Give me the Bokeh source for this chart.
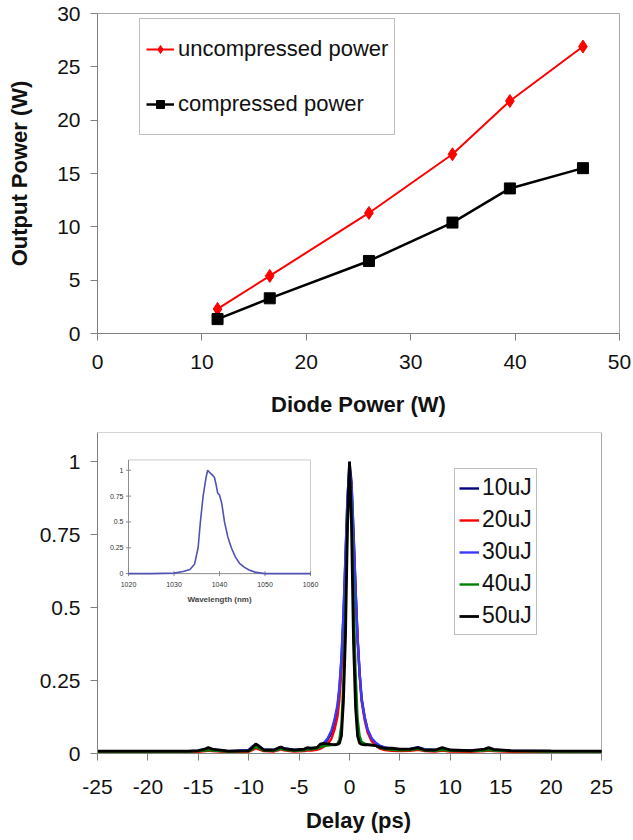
from bokeh.plotting import figure
from bokeh.models import Range1d, FixedTicker, Legend, LegendItem, CustomJSTickFormatter
from bokeh.layouts import column
from bokeh.embed import file_html
from bokeh.resources import INLINE
from bokeh.core.properties import value
import math

# ---------------- data: top chart ----------------
diode_power = [11.5, 16.5, 26.0, 34.0, 39.5, 46.5]
uncompressed_power = [2.3, 5.4, 11.3, 16.8, 21.8, 26.9]
compressed_power = [1.35, 3.3, 6.8, 10.4, 13.6, 15.5]
top_xticks = [0, 10, 20, 30, 40, 50]
top_yticks = [0, 5, 10, 15, 20, 25, 30]

# ---------------- data: autocorrelation traces ----------------
delay = [-25.0, -20.0, -16.0, -15.0, -14.3, -14.0, -13.6, -12.0, -10.0, -9.6,
         -9.3, -9.0, -8.5, -7.5, -7.0, -6.8, -6.5, -5.5, -4.5, -4.2,
         -3.8, -3.2, -2.9, -2.6, -2.2, -1.8, -1.5, -1.2, -1.0, -0.8,
         -0.6, -0.4, -0.2, 0.0, 0.2, 0.4, 0.6, 0.8, 1.0, 1.2,
         1.5, 1.8, 2.2, 2.6, 3.0, 3.5, 4.2, 5.0, 6.0, 6.8,
         7.5, 8.5, 9.2, 10.0, 12.0, 13.4, 13.8, 14.3, 16.0, 20.0, 25.0]
ac_10uJ = [0.007, 0.007, 0.007, 0.009, 0.011, 0.013, 0.011, 0.007, 0.010, 0.020,
           0.028, 0.022, 0.012, 0.011, 0.017, 0.020, 0.016, 0.011, 0.011, 0.014,
           0.014, 0.018, 0.024, 0.032, 0.046, 0.070, 0.105, 0.155, 0.220, 0.320,
           0.470, 0.670, 0.870, 1.000, 0.930, 0.760, 0.570, 0.400, 0.280, 0.190,
           0.125, 0.080, 0.050, 0.036, 0.026, 0.020, 0.016, 0.014, 0.015, 0.020,
           0.013, 0.011, 0.015, 0.011, 0.009, 0.011, 0.014, 0.011, 0.009, 0.007, 0.007]
ac_20uJ = [0.005, 0.005, 0.005, 0.006, 0.008, 0.010, 0.008, 0.005, 0.006, 0.012,
           0.018, 0.014, 0.008, 0.007, 0.012, 0.014, 0.011, 0.007, 0.008, 0.010,
           0.010, 0.013, 0.016, 0.022, 0.032, 0.050, 0.080, 0.125, 0.185, 0.285,
           0.420, 0.620, 0.840, 0.970, 0.880, 0.720, 0.550, 0.390, 0.270, 0.180,
           0.115, 0.072, 0.042, 0.028, 0.017, 0.012, 0.009, 0.008, 0.009, 0.013,
           0.008, 0.007, 0.010, 0.007, 0.006, 0.008, 0.010, 0.008, 0.006, 0.005, 0.005]
ac_30uJ = [0.008, 0.008, 0.008, 0.010, 0.012, 0.015, 0.012, 0.008, 0.012, 0.025,
           0.032, 0.025, 0.014, 0.012, 0.020, 0.022, 0.018, 0.012, 0.012, 0.015,
           0.015, 0.020, 0.026, 0.034, 0.050, 0.078, 0.115, 0.165, 0.230, 0.330,
           0.480, 0.680, 0.880, 0.980, 0.920, 0.750, 0.560, 0.395, 0.275, 0.185,
           0.125, 0.082, 0.052, 0.037, 0.027, 0.021, 0.016, 0.015, 0.016, 0.022,
           0.014, 0.012, 0.016, 0.012, 0.010, 0.012, 0.015, 0.012, 0.010, 0.008, 0.008]
ac_40uJ = [0.007, 0.007, 0.007, 0.008, 0.010, 0.012, 0.010, 0.007, 0.008, 0.015,
           0.022, 0.018, 0.010, 0.009, 0.014, 0.016, 0.013, 0.009, 0.011, 0.014,
           0.014, 0.017, 0.022, 0.025, 0.027, 0.029, 0.030, 0.033, 0.048, 0.100,
           0.250, 0.500, 0.800, 0.950, 0.850, 0.550, 0.280, 0.120, 0.060, 0.040,
           0.034, 0.031, 0.029, 0.027, 0.020, 0.015, 0.013, 0.011, 0.012, 0.016,
           0.010, 0.009, 0.013, 0.009, 0.008, 0.010, 0.013, 0.010, 0.008, 0.007, 0.007]
ac_50uJ = [0.008, 0.008, 0.008, 0.010, 0.016, 0.020, 0.015, 0.008, 0.010, 0.022,
           0.033, 0.026, 0.012, 0.012, 0.020, 0.022, 0.017, 0.012, 0.015, 0.020,
           0.018, 0.021, 0.032, 0.035, 0.033, 0.031, 0.030, 0.031, 0.035, 0.060,
           0.180, 0.400, 0.780, 1.000, 0.780, 0.380, 0.160, 0.060, 0.036, 0.031,
           0.030, 0.030, 0.029, 0.027, 0.022, 0.018, 0.018, 0.015, 0.015, 0.020,
           0.012, 0.012, 0.020, 0.012, 0.010, 0.015, 0.020, 0.014, 0.010, 0.009, 0.008]
series_labels = ["10uJ", "20uJ", "30uJ", "40uJ", "50uJ"]
series_colors = ["#000080", "#ff0000", "#3a3aff", "#008000", "#000000"]
bottom_xticks = [-25, -20, -15, -10, -5, 0, 5, 10, 15, 20, 25]
bottom_yticks = [0, 0.25, 0.5, 0.75, 1]

# ---------------- data: inset spectrum ----------------
wavelength = [1020, 1025, 1030, 1032, 1033.5, 1034.5, 1035.3, 1035.8, 1036.4, 1037.0,
              1037.4, 1037.8, 1038.3, 1038.9, 1039.3, 1039.6, 1040.0, 1040.5, 1041.1, 1041.8,
              1042.6, 1043.5, 1044.4, 1045.5, 1046.5, 1048.0, 1050.0, 1055.0, 1060.0]
spectrum = [0.0, 0.0, 0.005, 0.02, 0.04, 0.09, 0.25, 0.5, 0.75, 0.92,
            1.0, 0.98, 0.96, 0.93, 0.85, 0.78, 0.76, 0.68, 0.5, 0.36,
            0.25, 0.16, 0.1, 0.06, 0.035, 0.012, 0.0, 0.0, 0.0]
inset_xticks = [1020, 1030, 1040, 1050, 1060]
inset_xlabels = ["1020", "1030", "1040", "1050", "1060"]
inset_yticks = [0, 0.25, 0.5, 0.75, 1]
inset_ylabels = ["0", "0.25", "0.5", "0.75", "1"]

FONT = "Liberation Sans"
AX_GRAY = "#808080"
BOX_GRAY = "#a8a8a8"

W = 632
LEFT = 97
FRAME_W = 522


def style_axis(ax, ticks):
    ax.ticker = FixedTicker(ticks=ticks)
    ax.axis_line_color = AX_GRAY
    ax.major_tick_line_color = AX_GRAY
    ax.major_tick_in = 0
    ax.major_tick_out = 7
    ax.minor_tick_line_color = None
    ax.major_label_text_font = FONT
    ax.major_label_text_font_size = "21px"
    ax.major_label_text_color = "#111111"
    ax.axis_label_text_font = FONT
    ax.axis_label_text_font_style = "bold"
    ax.axis_label_text_font_size = "22px"
    ax.axis_label_text_color = "#111111"
    ax.formatter = CustomJSTickFormatter(code="return tick.toString();")


# ================= top figure =================
p1 = figure(width=W, height=419, x_range=Range1d(0, 50), y_range=Range1d(0, 30),
            output_backend="svg", toolbar_location=None,
            min_border_left=LEFT, min_border_right=W - LEFT - FRAME_W,
            min_border_top=13, min_border_bottom=84)
p1.grid.visible = False
p1.outline_line_color = BOX_GRAY
style_axis(p1.xaxis[0], top_xticks)
style_axis(p1.yaxis[0], top_yticks)
p1.xaxis.axis_label = "Diode Power (W)"
p1.yaxis.axis_label = "Output Power (W)"
p1.xaxis.major_label_standoff = 14
p1.xaxis.axis_label_standoff = 20
p1.yaxis.major_label_standoff = 10
p1.yaxis.axis_label_standoff = 22

l_unc = p1.line(diode_power, uncompressed_power, line_color="#ff0000", line_width=2)
m_unc = p1.scatter(diode_power, uncompressed_power, marker="diamond", size=13,
                   fill_color="#ff0000", line_color="#ff0000")
l_cmp = p1.line(diode_power, compressed_power, line_color="#000000", line_width=2.5)
m_cmp = p1.scatter(diode_power, compressed_power, marker="square", size=11,
                   fill_color="#000000", line_color="#000000")

leg1 = Legend(items=[LegendItem(label="uncompressed power", renderers=[l_unc, m_unc]),
                     LegendItem(label="compressed power", renderers=[l_cmp, m_cmp])],
              location=(42, 198), label_text_font=FONT, label_text_font_size="22px",
              label_text_color="#111111", glyph_width=28, glyph_height=20,
              label_height=48, spacing=7, padding=6, margin=0, label_standoff=4,
              border_line_color=AX_GRAY, border_line_width=1.5,
              background_fill_color="white", background_fill_alpha=1)
p1.add_layout(leg1)

# ================= bottom figure =================
AXIS_PX = 504   # pixel length of the -25..25 delay axis
x_lo, x_hi = bottom_xticks[0], bottom_xticks[-1]
x_end = x_hi + (FRAME_W - AXIS_PX) * (x_hi - x_lo) / AXIS_PX
y_top = 1.1
FRAME_H = 323

p2 = figure(width=W, height=416, x_range=Range1d(x_lo, x_end), y_range=Range1d(0, y_top),
            output_backend="svg", toolbar_location=None,
            min_border_left=LEFT, min_border_right=W - LEFT - FRAME_W,
            min_border_top=13, min_border_bottom=80)
p2.grid.visible = False
p2.outline_line_color = None
style_axis(p2.xaxis[0], bottom_xticks)
style_axis(p2.yaxis[0], bottom_yticks)
p2.xaxis.bounds = (x_lo, x_hi)
p2.xaxis.axis_label = "Delay (ps)"
p2.xaxis.major_label_standoff = 19
p2.xaxis.axis_label_standoff = 11
p2.yaxis.major_label_standoff = 10
# plot-area border (top and right)
p2.line([x_lo, x_hi, x_hi], [y_top, y_top, 0], line_color=BOX_GRAY, line_width=1)

# inset placement (pixel box inside the main frame) -> extra ranges
IN_LEFT, IN_RIGHT = 31, 213      # px from frame left for 1020 and 1060 nm
IN_TOP_1, IN_BOTTOM = 38, 142    # px from frame top for y=1 and y=0
ix0, ix1 = inset_xticks[0], inset_xticks[-1]
xpp = (ix1 - ix0) / (IN_RIGHT - IN_LEFT)
ypp = 1.0 / (IN_BOTTOM - IN_TOP_1)
p2.extra_x_ranges = {"ix": Range1d(ix0 - IN_LEFT * xpp, ix1 + (FRAME_W - IN_RIGHT) * xpp)}
p2.extra_y_ranges = {"iy": Range1d(-(FRAME_H - IN_BOTTOM) * ypp, IN_BOTTOM * ypp)}
IN = dict(x_range_name="ix", y_range_name="iy")
iy_top = 1.1

p2.line([ix0, ix1, ix1], [iy_top, iy_top, 0], line_color="#cccccc", line_width=1, **IN)
p2.line([ix0, ix0, ix1], [iy_top, 0, 0], line_color="#8c8c8c", line_width=1, **IN)
p2.scatter([ix0] * len(inset_yticks), inset_yticks, marker="dash", size=5,
           line_color="#8c8c8c", **IN)
p2.scatter(inset_xticks, [0] * len(inset_xticks), marker="dash", size=5, angle=math.pi / 2,
           line_color="#8c8c8c", **IN)
p2.text([ix0] * len(inset_yticks), inset_yticks, text=inset_ylabels, text_align="right",
        text_baseline="middle", x_offset=-5, text_font=value(FONT), text_font_size="7px",
        text_color="#333333", **IN)
p2.text(inset_xticks, [0] * len(inset_xticks), text=inset_xlabels, text_align="center",
        text_baseline="top", y_offset=8, text_font=value(FONT), text_font_size="7px",
        text_color="#333333", **IN)
p2.text([(ix0 + ix1) / 2], [0], text=["Wavelength (nm)"], text_align="center",
        text_baseline="top", y_offset=21, text_font=value(FONT), text_font_size="8px",
        text_font_style="bold", text_color="#444444", **IN)
p2.line(wavelength, spectrum, line_color="#5252b4", line_width=1.6, **IN)

# traces
items = []
for lab, col, ys in zip(series_labels, series_colors,
                        [ac_10uJ, ac_20uJ, ac_30uJ, ac_40uJ, ac_50uJ]):
    r = p2.line(delay, ys, line_color=col, line_width=2.4 if col != "#000000" else 2.8)
    items.append(LegendItem(label=lab, renderers=[r]))

leg2 = Legend(items=items, location=(357, 118), label_text_font=FONT,
              label_text_font_size="23px", label_text_color="#111111",
              glyph_width=20, glyph_height=20, label_height=29, spacing=3, padding=4,
              margin=0, label_standoff=3, border_line_color=AX_GRAY, border_line_width=1.5,
              background_fill_color="white", background_fill_alpha=1)
p2.add_layout(leg2)

layout = column(p1, p2, spacing=0)
open("out.html", "w").write(file_html(layout, INLINE))
